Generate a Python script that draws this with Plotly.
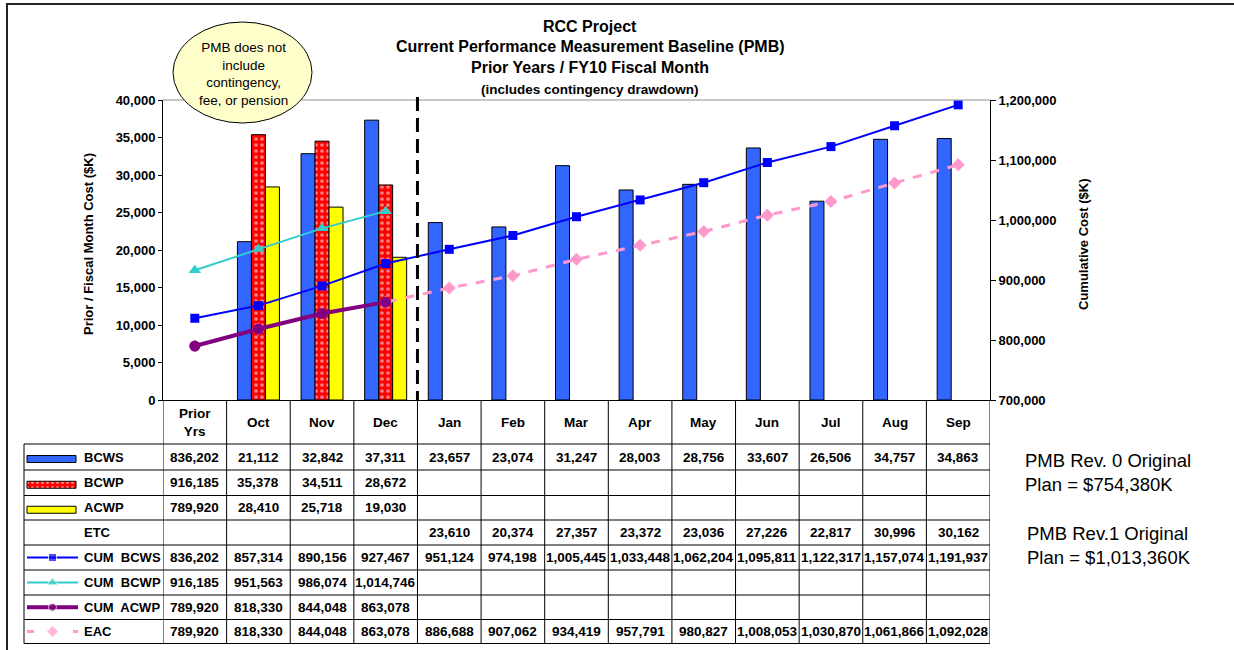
import plotly.graph_objects as go

# ---------------- data ----------------
categories = ["Prior Yrs", "Oct", "Nov", "Dec", "Jan", "Feb", "Mar", "Apr",
              "May", "Jun", "Jul", "Aug", "Sep"]
header_labels = ["Prior<br>Yrs", "Oct", "Nov", "Dec", "Jan", "Feb", "Mar", "Apr",
                 "May", "Jun", "Jul", "Aug", "Sep"]
bcws = [836202, 21112, 32842, 37311, 23657, 23074, 31247, 28003, 28756, 33607, 26506, 34757, 34863]
bcwp = [916185, 35378, 34511, 28672, None, None, None, None, None, None, None, None, None]
acwp = [789920, 28410, 25718, 19030, None, None, None, None, None, None, None, None, None]
etc = [None, None, None, None, 23610, 20374, 27357, 23372, 23036, 27226, 22817, 30996, 30162]
cum_bcws = [836202, 857314, 890156, 927467, 951124, 974198, 1005445, 1033448, 1062204,
            1095811, 1122317, 1157074, 1191937]
cum_bcwp = [916185, 951563, 986074, 1014746, None, None, None, None, None, None, None, None, None]
cum_acwp = [789920, 818330, 844048, 863078, None, None, None, None, None, None, None, None, None]
eac = [789920, 818330, 844048, 863078, 886688, 907062, 934419, 957791, 980827, 1008053,
       1030870, 1061866, 1092028]

# ---------------- layout constants ----------------
W, H = 1234, 650
PL, PR, PT, PB = 163, 990, 100, 400
FONT = "Arial, 'Liberation Sans', sans-serif"
C_BCWS, C_BCWP, C_ACWP = "#3366FF", "#FF0000", "#FFFF00"
C_CB, C_CBP, C_CA, C_EAC = "#0000FF", "#33CCCC", "#800080", "#FF99CC"


def fx(px):
    return px / W


def fy(py):
    return 1 - py / H


fig = go.Figure()

# bars (Prior Yrs is not plotted as a bar)
def monthly(vals):
    return [None] + list(vals[1:])

bar_line = dict(color="black", width=1)
fig.add_trace(go.Bar(x=categories, y=monthly(bcws), name="BCWS",
                     marker=dict(color=C_BCWS, line=bar_line)))
fig.add_trace(go.Bar(x=categories, y=monthly(bcwp), name="BCWP",
                     marker=dict(color=C_BCWP, line=bar_line,
                                 pattern=dict(shape=".", fgcolor="white", bgcolor=C_BCWP,
                                              size=6, solidity=0.3, fillmode="overlay"))))
fig.add_trace(go.Bar(x=categories, y=monthly(acwp), name="ACWP",
                     marker=dict(color=C_ACWP, line=bar_line)))

# cumulative lines (right axis)
fig.add_trace(go.Scatter(x=categories, y=eac, yaxis="y2", mode="lines+markers", name="EAC",
                         line=dict(color=C_EAC, width=3, dash="dash"),
                         marker=dict(symbol="diamond", size=10, color=C_EAC)))
fig.add_trace(go.Scatter(x=categories, y=cum_bcws, yaxis="y2", mode="lines+markers", name="CUM BCWS",
                         line=dict(color=C_CB, width=2),
                         marker=dict(symbol="square", size=9, color=C_CB)))
fig.add_trace(go.Scatter(x=categories, y=cum_bcwp, yaxis="y2", mode="lines+markers", name="CUM BCWP",
                         line=dict(color=C_CBP, width=2),
                         marker=dict(symbol="triangle-up", size=11, color=C_CBP)))
fig.add_trace(go.Scatter(x=categories, y=cum_acwp, yaxis="y2", mode="lines+markers", name="CUM ACWP",
                         line=dict(color=C_CA, width=4),
                         marker=dict(symbol="circle", size=11, color=C_CA)))

# ---------------- table geometry ----------------
row_bounds = [400, 444, 470, 495.5, 520, 545, 570, 595, 619.5, 643.5]
row_centers = [(row_bounds[i] + row_bounds[i + 1]) / 2 for i in range(len(row_bounds) - 1)]
TL = 24  # table left edge (label column)

shapes = []
# horizontal lines
for yb in row_bounds[1:]:
    shapes.append(dict(type="line", xref="paper", yref="paper", x0=fx(TL), x1=fx(PR),
                       y0=fy(yb), y1=fy(yb), line=dict(color="black", width=1)))
# vertical lines
shapes.append(dict(type="line", xref="paper", yref="paper", x0=fx(TL), x1=fx(TL),
                   y0=fy(row_bounds[1]), y1=fy(row_bounds[-1]), line=dict(color="black", width=1)))
for i in range(len(categories) + 1):
    shapes.append(dict(type="line", xref="x", yref="paper", x0=i - 0.5, x1=i - 0.5,
                       y0=fy(PB), y1=fy(row_bounds[-1]), line=dict(color="black", width=1)))
# top border of plot area (gray)
shapes.append(dict(type="line", xref="paper", yref="paper", x0=fx(PL), x1=fx(PR),
                   y0=fy(PT), y1=fy(PT), line=dict(color="#909090", width=1)))
# dashed separator between Dec and Jan
shapes.append(dict(type="line", xref="x", yref="paper", x0=3.5, x1=3.5, y0=fy(97), y1=fy(PB),
                   line=dict(color="black", width=3, dash="14px,7px")))
# outer frame
shapes.append(dict(type="rect", xref="paper", yref="paper", x0=fx(7), x1=fx(1250),
                   y0=fy(4), y1=fy(670), line=dict(color="#222222", width=2)))
# callout ellipse
shapes.append(dict(type="circle", xref="paper", yref="paper", x0=fx(173), x1=fx(312),
                   y0=fy(123), y1=fy(22), fillcolor="#FFFFCC", line=dict(color="black", width=1)))

annotations = []
def txt(x, y, text, size=13, xref="paper", xanchor="center", bold=True, align="center", angle=0):
    annotations.append(dict(x=x, y=y, xref=xref, yref="paper", text=(f"<b>{text}</b>" if bold else text),
                            showarrow=False, xanchor=xanchor, yanchor="middle", align=align,
                            textangle=angle, font=dict(family=FONT, size=size, color="black")))

# header row
for i, lab in enumerate(header_labels):
    txt(i, fy(row_centers[0]), lab, xref="x", size=13.5)

rows = [("BCWS", bcws), ("BCWP", bcwp), ("ACWP", acwp), ("ETC", etc),
        ("CUM\u00a0 BCWS", cum_bcws), ("CUM\u00a0 BCWP", cum_bcwp),
        ("CUM\u00a0 ACWP", cum_acwp), ("EAC", eac)]
for r, (label, vals) in enumerate(rows):
    yc = row_centers[r + 1]
    txt(fx(82), fy(yc), label, xanchor="left", size=13)
    for i, v in enumerate(vals):
        if v is not None:
            txt(i, fy(yc), f"{v:,}", xref="x", size=13.5)

# legend swatches in the table (pixel axes x3/y3)
bar_keys = [(C_BCWS, None), (C_BCWP, "."), (C_ACWP, None)]
for k, (col, pat) in enumerate(bar_keys):
    yc = row_centers[k + 1] + 2
    mk = dict(color=col, line=dict(color="black", width=1))
    if pat:
        mk["pattern"] = dict(shape=".", fgcolor="white", bgcolor=col, size=5, solidity=0.3,
                             fillmode="overlay")
    fig.add_trace(go.Bar(x=[49], base=[27], y=[yc], orientation="h", width=[7], offset=-3.5,
                         marker=mk, xaxis="x3", yaxis="y3", hoverinfo="skip"))

line_keys = [(5, C_CB, 2, "solid", "square", 8), (6, C_CBP, 2, "solid", "triangle-up", 10),
             (7, C_CA, 4, "solid", "circle", 8), (8, C_EAC, 3, "7px,39px", "diamond", 9)]
for row, col, w, dash, sym, ms in line_keys:
    yc = row_centers[row]
    fig.add_trace(go.Scatter(x=[27, 52.5, 78], y=[yc, yc, yc], mode="lines+markers",
                             line=dict(color=col, width=w, dash=dash),
                             marker=dict(symbol=sym, size=[0, ms, 0], color=col),
                             xaxis="x3", yaxis="y3", hoverinfo="skip"))

# titles
txt(fx(590), fy(26), "RCC Project", size=16)
txt(fx(590), fy(47), "Current Performance Measurement Baseline (PMB)", size=16)
txt(fx(590), fy(68), "Prior Years / FY10 Fiscal Month", size=16)
txt(fx(590), fy(89), "(includes contingency drawdown)", size=13.5)
# axis titles
txt(fx(88), fy(244), "Prior / Fiscal Month Cost ($K)", size=13, angle=-90)
txt(fx(1083), fy(245), "Cumulative Cost ($K)", size=13, angle=-90)
# callout text
txt(fx(243), fy(74), "PMB does not<br>include<br>contingency,<br>fee, or pension", size=13.5, bold=False)
# side notes
annotations.append(dict(x=fx(1023), y=fy(472), xref="paper", yref="paper", showarrow=False,
                        text="PMB Rev. 0 Original<br>Plan = $754,380K", xanchor="left", yanchor="middle",
                        align="left", font=dict(family=FONT, size=18.5, color="black")))
annotations.append(dict(x=fx(1025), y=fy(545), xref="paper", yref="paper", showarrow=False,
                        text="PMB Rev.1 Original<br>Plan = $1,013,360K", xanchor="left", yanchor="middle",
                        align="left", font=dict(family=FONT, size=18.5, color="black")))

tickfont = dict(family=FONT, size=13, color="black", weight="bold")
fig.update_layout(
    width=W, height=H, margin=dict(l=0, r=0, t=0, b=0),
    paper_bgcolor="white", plot_bgcolor="rgba(0,0,0,0)",
    showlegend=False, barmode="group", bargap=0.34, bargroupgap=0,
    xaxis=dict(domain=[fx(PL), fx(PR)], type="category", range=[-0.5, 12.5],
               showticklabels=False, ticks="", showline=True, linecolor="black", linewidth=1,
               showgrid=False, zeroline=False, automargin=False, fixedrange=True),
    yaxis=dict(domain=[fy(PB), fy(PT)], range=[0, 40000], dtick=5000, tickformat=",",
               ticks="outside", ticklen=4, tickcolor="black", showline=True, linecolor="black",
               showgrid=False, zeroline=False, tickfont=tickfont, automargin=False, fixedrange=True),
    yaxis2=dict(overlaying="y", side="right", anchor="x", range=[700000, 1200000], dtick=100000,
                tickformat=",", ticks="outside", ticklen=5, tickcolor="black", showline=True,
                linecolor="black", showgrid=False, zeroline=False, tickfont=tickfont,
                automargin=False, fixedrange=True),
    xaxis3=dict(domain=[0, 1], range=[0, W], visible=False, anchor="y3", fixedrange=True),
    yaxis3=dict(domain=[0, 1], range=[H, 0], visible=False, anchor="x3", fixedrange=True),
    shapes=shapes, annotations=annotations,
)

fig.write_html("out.html", config={"displayModeBar": False},
               post_script="document.body.style.margin='0px';document.body.style.overflow='hidden';")
